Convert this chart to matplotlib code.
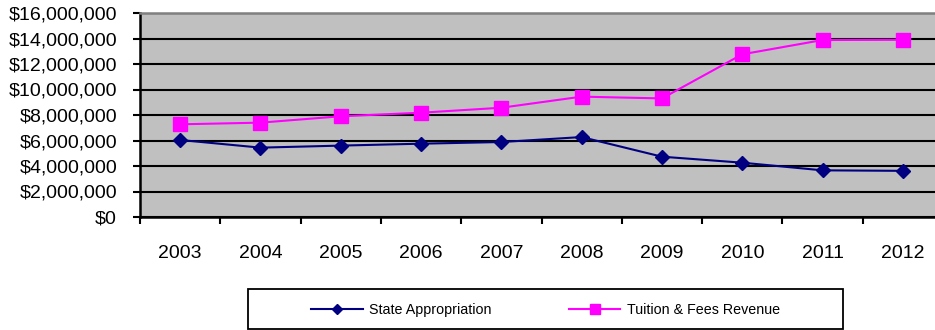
import matplotlib
matplotlib.use("Agg")
import matplotlib.pyplot as plt
from matplotlib.patches import Rectangle
from matplotlib.ticker import FuncFormatter, MultipleLocator

years = ["2003", "2004", "2005", "2006", "2007", "2008", "2009", "2010", "2011", "2012"]
state_appropriation = [6040000, 5440000, 5600000, 5750000, 5880000, 6270000, 4730000, 4260000, 3660000, 3620000]
tuition_fees = [7270000, 7400000, 7900000, 8180000, 8570000, 9440000, 9300000, 12760000, 13880000, 13900000]

plt.rcParams["font.family"] = ["Liberation Sans", "DejaVu Sans"]

W, H = 935, 330
fig = plt.figure(figsize=(W / 100, H / 100), dpi=100)
ax = fig.add_axes([140 / W, (H - 217) / H, (943 - 140) / W, 204 / H])
ax.set_facecolor("#C0C0C0")

x = list(range(len(years)))
ax.plot(x, state_appropriation, color="#000080", lw=1.5, marker="D", ms=7.5,
        label="State Appropriation", zorder=3, clip_on=False)
ax.plot(x, tuition_fees, color="#FF00FF", lw=1.5, marker="s", ms=9.5,
        label="Tuition & Fees Revenue", zorder=3, clip_on=False)

ax.set_xlim(-0.5, len(years) - 0.5)
ax.set_ylim(0, 16000000)
ax.yaxis.set_major_locator(MultipleLocator(2000000))
ax.yaxis.set_major_formatter(FuncFormatter(lambda v, p: "${:,.0f}".format(v)))
ax.grid(axis="y", color="black", lw=1.5, zorder=1)
ax.set_axisbelow(True)

ax.set_xticks([i - 0.5 for i in range(len(years) + 1)])
ax.set_xticklabels([])
ax.set_xticks(x, minor=True)
ax.set_xticklabels(years, minor=True)
ax.tick_params(axis="x", which="major", direction="out", length=5, width=1.5, color="black")
ax.tick_params(axis="x", which="minor", length=0, pad=20, labelsize=14)
ax.tick_params(axis="y", direction="out", length=5, width=1.5, color="black",
               pad=11.5, labelsize=14)

for side in ("left", "bottom"):
    ax.spines[side].set_color("black")
    ax.spines[side].set_linewidth(1.8)
ax.spines["top"].set_color("#808080")
ax.spines["top"].set_linewidth(1.8)
ax.spines["right"].set_visible(False)

# legend frame drawn in figure pixels, legend itself centred inside
fig.patches.append(Rectangle((248 / W, (H - 329) / H), 595 / W, 40 / H,
                             transform=fig.transFigure, fill=False,
                             edgecolor="black", lw=1.3))
handles, labels = ax.get_legend_handles_labels()
leg = fig.legend(handles, labels, loc="center", ncol=2, frameon=False,
                 bbox_to_anchor=(545.5 / W, 1 - 310 / H), fontsize=10.3,
                 handlelength=3.6, handletextpad=0.45, columnspacing=5.4,
                 markerscale=0.7)

fig.savefig("out.png", dpi=100)
